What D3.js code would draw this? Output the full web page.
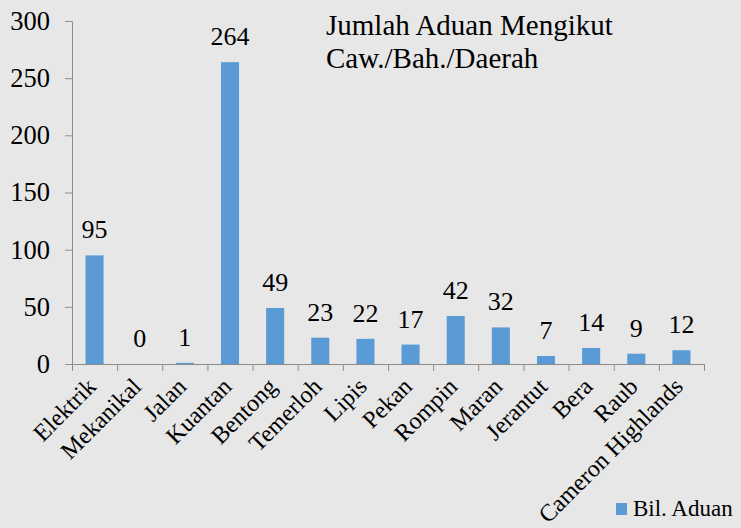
<!DOCTYPE html>
<html>
<head>
<meta charset="utf-8">
<script src="https://cdn.jsdelivr.net/npm/d3@7"></script>
<style>
  body { margin: 0; background: #e7e7e7; }
  svg { display: block; }
</style>
</head>
<body>
<div class="chart"></div>
<script>
const categories = ["Elektrik", "Mekanikal", "Jalan", "Kuantan", "Bentong", "Temerloh", "Lipis",
  "Pekan", "Rompin", "Maran", "Jerantut", "Bera", "Raub", "Cameron Highlands"];
const aduan = [95, 0, 1, 264, 49, 23, 22, 17, 42, 32, 7, 14, 9, 12];
const yTicks = [0, 50, 100, 150, 200, 250, 300];
const titleLines = ["Jumlah Aduan Mengikut", "Caw./Bah./Daerah"];
const seriesName = "Bil. Aduan";

const width = 741;
const height = 528;
const plotLeft = 72;
const plotRight = 704;
const plotTop = 21;
const plotBottom = 364;
const blue = "#5b9bd5";
const axisGrey = "#8c8c8c";
const serif = "'Liberation Serif', 'Times New Roman', 'DejaVu Serif', serif";

const svg = d3.select(".chart").append("svg")
  .attr("width", width)
  .attr("height", height)
  .attr("font-family", serif);

svg.append("rect")
  .attr("width", width)
  .attr("height", height)
  .attr("fill", "#e7e7e7");

const x = d3.scaleBand()
  .domain(categories)
  .range([plotLeft, plotRight])
  .paddingInner(0.6)
  .paddingOuter(0.3);

const xEdges = d3.scaleLinear()
  .domain([0, categories.length])
  .range([plotLeft, plotRight]);

const y = d3.scaleLinear()
  .domain([0, 300])
  .range([plotBottom, plotTop]);

// y axis
const yAxis = svg.append("g")
  .attr("transform", `translate(${plotLeft},0)`)
  .call(d3.axisLeft(y).tickValues(yTicks).tickSize(7).tickSizeOuter(0).tickPadding(15))
  .attr("font-family", serif)
  .attr("font-size", 26.5);

yAxis.selectAll("text")
  .attr("fill", "#000");

// x axis: ticks on category edges
svg.append("g")
  .attr("transform", `translate(0,${plotBottom})`)
  .call(d3.axisBottom(xEdges).ticks(categories.length).tickSize(7).tickSizeOuter(0).tickFormat(""));

svg.selectAll(".domain, .tick line").attr("stroke", axisGrey);

// bars
svg.append("g")
  .selectAll("rect")
  .data(aduan)
  .join("rect")
  .attr("x", (d, i) => x(categories[i]))
  .attr("y", d => y(d))
  .attr("width", x.bandwidth())
  .attr("height", d => plotBottom - y(d))
  .attr("fill", blue);

// value labels
svg.append("g")
  .attr("font-size", 26)
  .selectAll("text")
  .data(aduan)
  .join("text")
  .attr("x", (d, i) => x(categories[i]) + x.bandwidth() / 2)
  .attr("y", d => y(d) - 17)
  .attr("text-anchor", "middle")
  .attr("fill", "#000")
  .text(d => d);

// category labels, rotated
svg.append("g")
  .attr("font-size", 24)
  .selectAll("text")
  .data(categories)
  .join("text")
  .attr("text-anchor", "end")
  .attr("fill", "#000")
  .attr("transform", d => `translate(${x(d) + x.bandwidth() / 2 + 3},${plotBottom + 24}) rotate(-45)`)
  .text(d => d);

// title
svg.append("text")
  .attr("x", 326)
  .attr("y", 35)
  .attr("font-size", 29)
  .attr("fill", "#000")
  .selectAll("tspan")
  .data(titleLines)
  .join("tspan")
  .attr("x", 326)
  .attr("dy", (d, i) => i === 0 ? 0 : 33)
  .text(d => d);

// legend
const legend = svg.append("g").attr("transform", "translate(616,503)");
legend.append("rect")
  .attr("width", 11)
  .attr("height", 12)
  .attr("fill", blue);
legend.append("text")
  .attr("x", 17)
  .attr("y", 13)
  .attr("font-size", 23)
  .attr("fill", "#000")
  .text(seriesName);
</script>
</body>
</html>
